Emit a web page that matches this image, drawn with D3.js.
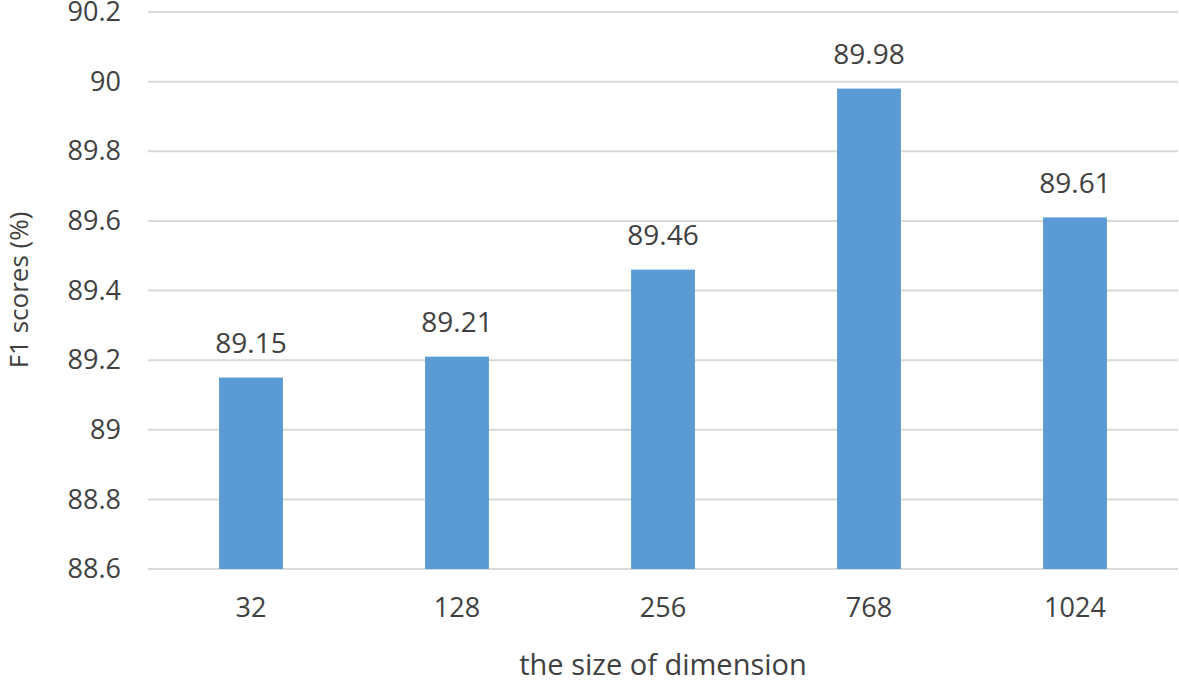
<html>
<head>
    <meta charset="UTF-8" />
    <script src="https://d3js.org/d3.v7.min.js"></script>
    <style>
        body { margin: 0; background: white; }
    </style>
</head>
<body>
    <svg id="chart" width="1179" height="682"></svg>
    <script>
        const dims = ["32", "128", "256", "768", "1024"];
        const f1 = [89.15, 89.21, 89.46, 89.98, 89.61];
        const yTicks = [88.6, 88.8, 89, 89.2, 89.4, 89.6, 89.8, 90, 90.2];

        let svg = d3.select("svg#chart");
        const margin = {top: 12, right: 1, bottom: 113, left: 148};
        const width = +svg.attr("width");
        const height = +svg.attr("height");
        const chartWidth = width - margin.left - margin.right;
        const chartHeight = height - margin.top - margin.bottom;
        const font = "'Open Sans', 'Noto Sans', sans-serif";

        let chartArea = svg.append("g")
            .attr("transform", `translate(${margin.left},${margin.top})`);

        const x = d3.scaleBand().domain(dims).range([0, chartWidth]).paddingInner(0.69).paddingOuter(0.345);
        const y = d3.scaleLinear().domain([88.6, 90.2]).range([chartHeight, 0]);

        // gridlines
        chartArea.selectAll("line.grid").data(yTicks).join("line")
            .attr("class", "grid")
            .attr("x1", 0).attr("x2", chartWidth)
            .attr("y1", d => y(d)).attr("y2", d => y(d))
            .attr("stroke", "#d9d9d9")
            .attr("stroke-width", 2);

        // y tick labels
        svg.selectAll("text.ytick").data(yTicks).join("text")
            .attr("class", "ytick")
            .attr("x", 121)
            .attr("y", d => margin.top + y(d) + 2)
            .attr("text-anchor", "end")
            .attr("dominant-baseline", "middle")
            .attr("font-family", font)
            .attr("font-size", "27px")
            .attr("fill", "#404040")
            .text(d => d);

        // bars
        chartArea.selectAll("rect.bar").data(f1).join("rect")
            .attr("class", "bar")
            .attr("x", (d, i) => x(dims[i]))
            .attr("y", d => y(d))
            .attr("width", x.bandwidth())
            .attr("height", d => chartHeight - y(d))
            .attr("fill", "#5b9bd5");

        // value labels
        chartArea.selectAll("text.val").data(f1).join("text")
            .attr("class", "val")
            .attr("x", (d, i) => x(dims[i]) + x.bandwidth() / 2)
            .attr("y", d => y(d) - 32)
            .attr("text-anchor", "middle")
            .attr("dominant-baseline", "middle")
            .attr("font-family", font)
            .attr("font-size", "28px")
            .attr("fill", "#404040")
            .text(d => d.toFixed(2));

        // x tick labels
        chartArea.selectAll("text.xtick").data(dims).join("text")
            .attr("class", "xtick")
            .attr("x", d => x(d) + x.bandwidth() / 2)
            .attr("y", chartHeight + 41)
            .attr("text-anchor", "middle")
            .attr("dominant-baseline", "middle")
            .attr("font-family", font)
            .attr("font-size", "27px")
            .attr("fill", "#404040")
            .text(d => d);

        // axis titles
        svg.append("text")
            .attr("x", 663)
            .attr("y", 667)
            .attr("text-anchor", "middle")
            .attr("dominant-baseline", "middle")
            .attr("font-family", font)
            .attr("font-size", "29px")
            .attr("fill", "#404040")
            .text("the size of dimension");

        svg.append("text")
            .attr("transform", `translate(21,290) rotate(-90)`)
            .attr("text-anchor", "middle")
            .attr("dominant-baseline", "middle")
            .attr("font-family", font)
            .attr("font-size", "26px")
            .attr("fill", "#404040")
            .text("F1 scores (%)");
    </script>
</body>
</html>
